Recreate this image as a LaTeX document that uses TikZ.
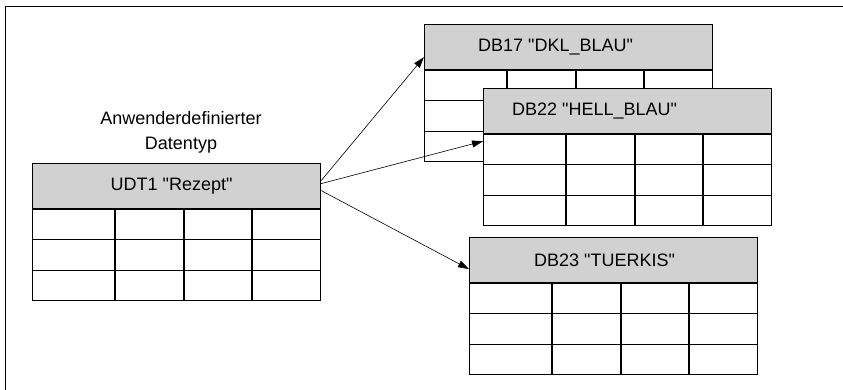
\documentclass[tikz,border=0pt]{standalone}
\usepackage{fontspec}
\setmainfont{Liberation Sans}[Ligatures=TeXOff]
\usetikzlibrary{arrows.meta}

\begin{document}
\begin{tikzpicture}[
        x=1pt, y=-1pt,
        >={Triangle[length=11pt,width=7pt]},
        head/.style={
            draw,
            line width=1.2pt,
            fill=black!18,
            minimum width=288pt,
            minimum height=45pt,
            anchor=north west,
            inner sep=0pt
        },
        body/.style={
            draw,
            line width=1.2pt,
            fill=white,
            minimum width=288pt,
            minimum height=91pt,
            anchor=north west,
            inner sep=0pt
        },
        title/.style={font=\fontsize{18}{25}\selectfont}
    ]
        \useasboundingbox (0,0) rectangle (843,390);
        \draw[line width=1.5pt] (5.5,390) |- (843,6.5);
        % tables: name / x / y / shift of title / title
        \foreach \t/\x/\y/\dx/\lab in {
                udt/32/163/-5/{UDT1 "Rezept"},
                db17/424/24/-13/{DB17 "DKL\_BLAU"},
                db22/483/88/-33/{DB22 "HELL\_BLAU"},
                db23/469/237/-9/{DB23 "TUERKIS"}} {
            \node[head] (\t-h) at (\x,\y) {};
            \node[body] (\t-b) at (\t-h.south west) {};
            \node[title] (\t-t) at ([xshift=\dx pt]\t-h.center) {\lab};
            \foreach \c in {83,152,220}
                \draw[line width=1.2pt] ([xshift=\c pt]\t-b.north west) -- ([xshift=\c pt]\t-b.south west);
            \foreach \r in {30,61}
                \draw[line width=1.2pt] ([yshift=-\r pt]\t-b.north west) -- ([yshift=-\r pt]\t-b.north east);
        }
        \node[title, align=center] (udtlabel) at (181,132) {Anwenderdefinierter\\Datentyp};
        % instances
        \draw[->, semithick] ([yshift=5.5pt]udt-h.east) -- ([yshift=-10pt]db17-h.west);
        \draw[->, semithick] ([yshift=2.5pt]udt-h.east) -- ([yshift=-7pt]db22-b.north west);
        \draw[->, semithick] ([yshift=-4.5pt]udt-h.east) -- ([yshift=-9pt]db23-h.west);
    \end{tikzpicture}
\end{document}
